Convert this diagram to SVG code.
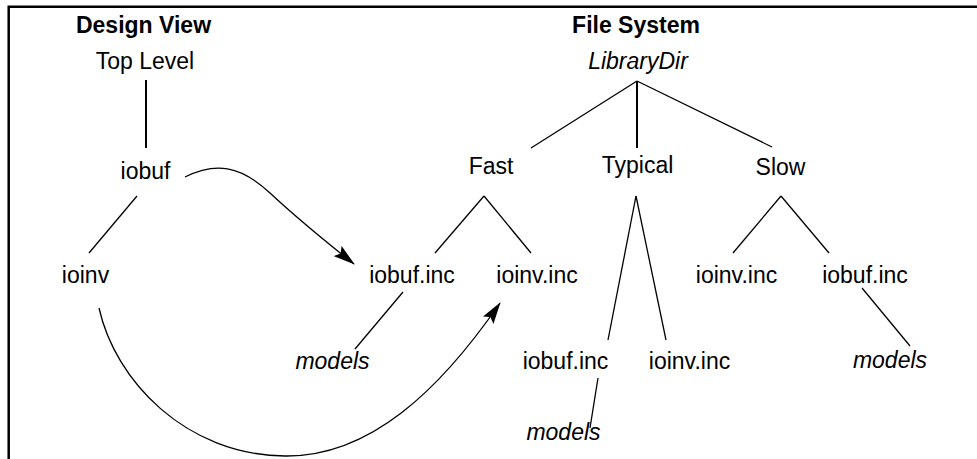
<svg xmlns="http://www.w3.org/2000/svg" width="977" height="459" viewBox="0 0 977 459">
  <style>
    text { font-family: "Liberation Sans", Arial, sans-serif; font-size: 23px; fill: #000; text-anchor: middle; }
    .title { font-weight: bold; }
    .it { font-style: italic; }
    .edge { stroke: #000; stroke-width: 1.3; fill: none; }
    .trunk { stroke: #000; stroke-width: 2; fill: none; }
    .link { stroke: #000; stroke-width: 1.3; fill: none; marker-end: url(#head); }
    .frame { stroke: #000; stroke-width: 2.5; fill: none; }
  </style>
  <defs>
    <marker id="head" viewBox="0 0 22 13" refX="21" refY="6.5" markerWidth="22" markerHeight="13" markerUnits="userSpaceOnUse" orient="auto">
      <path d="M0,0 L22,6.5 L0,13 L4,6.5 Z" fill="#000"/>
    </marker>
  </defs>

  <!-- frame (top and left edges) -->
  <path class="frame" d="M8.7,459 L8.7,6.7 L977,6.7"/>

  <!-- headings -->
  <text class="title" x="143.5" y="33">Design View</text>
  <text class="title" x="636" y="33">File System</text>

  <!-- design view nodes -->
  <g id="top-level"><text x="145" y="69">Top Level</text></g>
  <g id="iobuf"><text x="145.5" y="179">iobuf</text></g>
  <g id="ioinv"><text x="85.5" y="283">ioinv</text></g>

  <!-- file system nodes -->
  <g id="librarydir"><text class="it" x="638" y="69">LibraryDir</text></g>
  <g id="fast"><text x="491" y="174">Fast</text></g>
  <g id="typical"><text x="637.5" y="173">Typical</text></g>
  <g id="slow"><text x="780.5" y="175">Slow</text></g>

  <g id="fast-iobuf-inc"><text x="412" y="283">iobuf.inc</text></g>
  <g id="fast-ioinv-inc"><text x="537" y="283">ioinv.inc</text></g>
  <g id="fast-models"><text class="it" x="332.5" y="369">models</text></g>

  <g id="typical-iobuf-inc"><text x="565.5" y="369">iobuf.inc</text></g>
  <g id="typical-ioinv-inc"><text x="689.5" y="369">ioinv.inc</text></g>
  <g id="typical-models"><text class="it" x="563.5" y="440">models</text></g>

  <g id="slow-ioinv-inc"><text x="736.5" y="283">ioinv.inc</text></g>
  <g id="slow-iobuf-inc"><text x="865" y="283">iobuf.inc</text></g>
  <g id="slow-models"><text class="it" x="890" y="368">models</text></g>

  <!-- connectors -->
  <g id="connectors">
    <path class="trunk" d="M146,80 L146,148"/>
    <path class="edge" d="M137,196 L89,253"/>

    <path class="trunk" d="M637,81 L637,148"/>
    <path class="edge" d="M637,81 L531,148"/>
    <path class="edge" d="M637,81 L772,147"/>

    <path class="edge" d="M484,196 L435,253"/>
    <path class="edge" d="M484,196 L531,253"/>
    <path class="edge" d="M403,292 L355,349"/>

    <path class="edge" d="M636,196 L608,340"/>
    <path class="edge" d="M636,196 L666,340"/>
    <path class="edge" d="M598,378 L590,428"/>

    <path class="edge" d="M781,196 L733,253"/>
    <path class="edge" d="M781,196 L829,253"/>
    <path class="edge" d="M862,288 L910,346"/>

    <path class="link" d="M185,177 C215,162 240,165 270,193 S330,245 354,264"/>
    <path class="link" d="M99,308 C115,380 185,455 285,456 C370,457 440,390 500,303"/>
  </g>
</svg>
